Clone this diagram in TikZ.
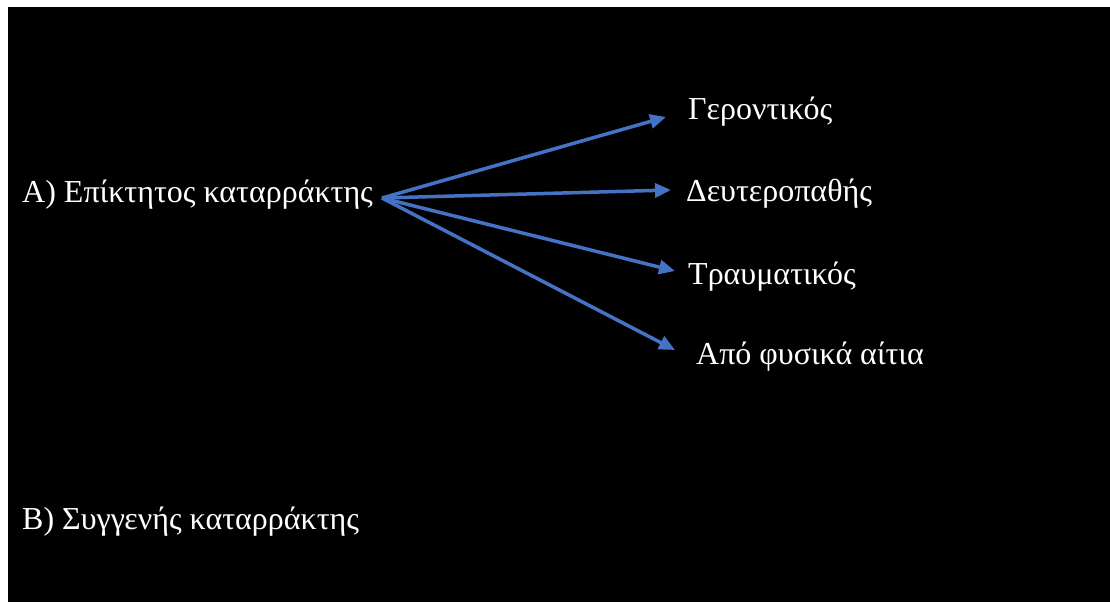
\documentclass[tikz,border=0pt]{standalone}
\usepackage{fontspec}
\setmainfont{Liberation Serif}
\usetikzlibrary{arrows.meta}
\definecolor{arrowblue}{HTML}{4472C4}
\tikzset{
  lbl/.style={anchor=base west, inner sep=0pt, text=white, font=\fontsize{32}{38}\selectfont},
  conn/.style={draw=arrowblue, line width=3.5pt, -{Triangle[length=16pt,width=14pt]}}
}
\begin{document}
\begin{tikzpicture}[x=1pt,y=1pt]
\useasboundingbox (0,0) rectangle (1110,602);
\fill[white] (0,0) rectangle (1110,602);
\fill[black] (8,0) rectangle (1110,595);
\node[lbl] (a) at (22,399) {A) Επίκτητος καταρράκτης};
\node[lbl] (g) at (688,482) {Γεροντικός};
\node[lbl] (d) at (686,400) {Δευτεροπαθής};
\node[lbl] (t) at (688,317) {Τραυματικός};
\node[lbl] (f) at (696,237) {Από φυσικά αίτια};
\node[lbl] (b) at (22,72) {B) Συγγενής καταρράκτης};
\coordinate (o) at (382,404);
\coordinate (eg) at (666,485);
\coordinate (ed) at (671,412);
\coordinate (et) at (675,331);
\coordinate (ef) at (675,252);
\draw[conn] (o) -- (eg);
\draw[conn] (o) -- (ed);
\draw[conn] (o) -- (et);
\draw[conn] (o) -- (ef);
\end{tikzpicture}
\end{document}
